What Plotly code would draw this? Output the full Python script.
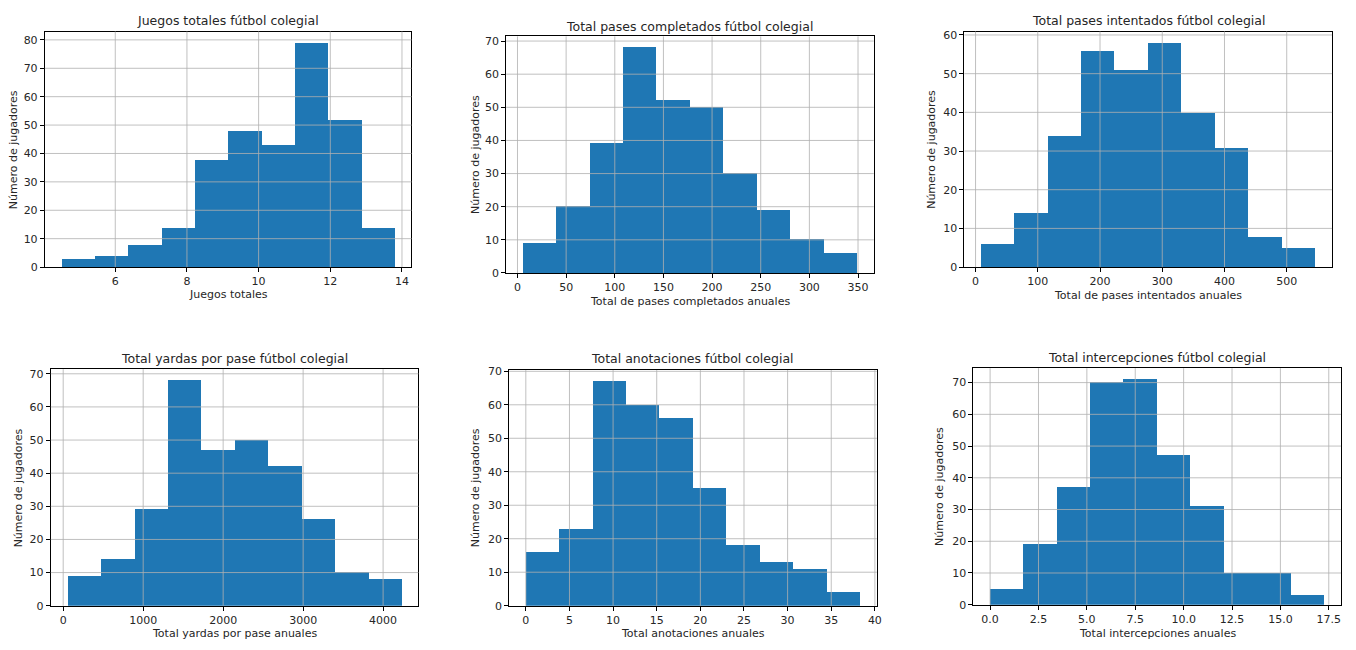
import numpy as np
import plotly.graph_objects as go

W, H = 1356, 650

# ---- data: counts per bin and the range covered by the bins ----
titles = [
    "Juegos totales fútbol colegial",
    "Total pases completados fútbol colegial",
    "Total pases intentados fútbol colegial",
    "Total yardas por pase fútbol colegial",
    "Total anotaciones fútbol colegial",
    "Total intercepciones fútbol colegial",
]
xlabels = [
    "Juegos totales",
    "Total de pases completados anuales",
    "Total de pases intentados anuales",
    "Total yardas por pase anuales",
    "Total anotaciones anuales",
    "Total intercepciones anuales",
]
ylabels = [
    "Número de jugadores",
    "Número de jugadores",
    "Número de jugadores",
    "Número de jugadores",
    "Número de jugadores",
    "Número de jugadores",
]

juegos_counts = [3, 4, 8, 14, 38, 48, 43, 79, 52, 14]
juegos_range = [4.5, 13.8]

completados_counts = [9, 20, 39, 68, 52, 50, 30, 19, 10, 6]
completados_range = [5.5, 349]

intentados_counts = [6, 14, 34, 56, 51, 58, 40, 31, 8, 5]
intentados_range = [9, 546]

yardas_counts = [9, 14, 29, 68, 47, 50, 42, 26, 10, 8]
yardas_range = [54, 4233]

anotaciones_counts = [16, 23, 67, 60, 56, 35, 18, 13, 11, 4]
anotaciones_range = [0, 38.3]

intercepciones_counts = [5, 19, 37, 70, 71, 47, 31, 10, 10, 3]
intercepciones_range = [0, 17.27]

counts = [juegos_counts, completados_counts, intentados_counts,
          yardas_counts, anotaciones_counts, intercepciones_counts]
ranges = [juegos_range, completados_range, intentados_range,
          yardas_range, anotaciones_range, intercepciones_range]

# tick steps for x and y of each panel
x_dticks = [2, 50, 100, 1000, 5, 2.5]
y_dticks = [10, 10, 10, 10, 10, 10]
x_formats = ["", "", "", "", "", ".1f"]

# ---- layout: plot-area boxes in pixels (left, right, top, bottom) ----
boxes = [
    (45, 413, 27, 267),
    (508, 877, 32, 273),
    (968, 1337, 27, 267),
    (51, 420, 371, 612),
    (511, 880, 372, 612),
    (977, 1346, 370, 611),
]
title_y = [16, 22, 16, 360, 360, 359]
xlabel_y = [295, 302, 296, 640, 640, 640]
ylabel_x = [13, 477, 935, 18, 478, 943]

BLUE = "#1f77b4"
GRID = "#b0b0b0"
FONT = "DejaVu Sans"
TXT = "#262626"

fig = go.Figure()
annotations = []
shapes = []
layout_axes = {}

for i in range(6):
    k = "" if i == 0 else str(i + 1)
    lo, hi = ranges[i]
    c = counts[i]
    n = len(c)
    edges = np.linspace(lo, hi, n + 1)
    centers = (edges[:-1] + edges[1:]) / 2
    width = edges[1] - edges[0]

    fig.add_trace(go.Bar(
        x=centers, y=c, width=width,
        marker=dict(color=BLUE, line=dict(width=0)),
        xaxis="x" + k, yaxis="y" + k, showlegend=False,
        hovertemplate="%{y}<extra></extra>",
    ))

    span = hi - lo
    xr = [lo - 0.05 * span, hi + 0.05 * span]
    yr = [0, max(c) * 1.05]

    left, right, top, bottom = boxes[i]
    xd = [left / W, right / W]
    yd = [1 - bottom / H, 1 - top / H]

    common = dict(
        showline=True, mirror=True, linecolor="black", linewidth=1,
        ticks="outside", ticklen=4, tickwidth=1, tickcolor="black",
        showgrid=False, zeroline=False,
        tickfont=dict(family=FONT, size=11, color=TXT),
    )
    layout_axes["xaxis" + k] = dict(
        domain=xd, range=xr, anchor="y" + k,
        tick0=0, dtick=x_dticks[i], tickformat=x_formats[i], **common)
    layout_axes["yaxis" + k] = dict(
        domain=yd, range=yr, anchor="x" + k,
        tick0=0, dtick=y_dticks[i], **common)

    # grid lines drawn over the bars
    xt = np.arange(np.ceil(xr[0] / x_dticks[i]), np.floor(xr[1] / x_dticks[i]) + 1) * x_dticks[i]
    for v in xt:
        shapes.append(dict(type="line", xref="x" + k, yref="y" + k + " domain",
                           x0=v, x1=v, y0=0, y1=1, layer="above",
                           line=dict(color=GRID, width=0.8)))
    yt = np.arange(0, np.floor(yr[1] / y_dticks[i]) + 1) * y_dticks[i]
    for v in yt[1:]:
        shapes.append(dict(type="line", xref="x" + k + " domain", yref="y" + k,
                           x0=0, x1=1, y0=v, y1=v, layer="above",
                           line=dict(color=GRID, width=0.8)))

    annotations.append(dict(
        text=titles[i], xref="paper", yref="paper",
        x=(xd[0] + xd[1]) / 2, y=1 - title_y[i] / H,
        xanchor="center", yanchor="middle", showarrow=False,
        font=dict(family=FONT, size=12.5, color=TXT)))
    annotations.append(dict(
        text=xlabels[i], xref="paper", yref="paper",
        x=(xd[0] + xd[1]) / 2, y=1 - xlabel_y[i] / H,
        xanchor="center", yanchor="middle", showarrow=False,
        font=dict(family=FONT, size=11, color=TXT)))
    annotations.append(dict(
        text=ylabels[i], xref="paper", yref="paper",
        x=ylabel_x[i] / W, y=(yd[0] + yd[1]) / 2,
        xanchor="center", yanchor="middle", showarrow=False, textangle=-90,
        font=dict(family=FONT, size=11, color=TXT)))

fig.update_layout(
    width=W, height=H,
    margin=dict(l=0, r=0, t=0, b=0),
    paper_bgcolor="white", plot_bgcolor="white",
    annotations=annotations, shapes=shapes,
    bargap=0,
    **layout_axes,
)

fig.write_html("out.html", config={"displayModeBar": False})
